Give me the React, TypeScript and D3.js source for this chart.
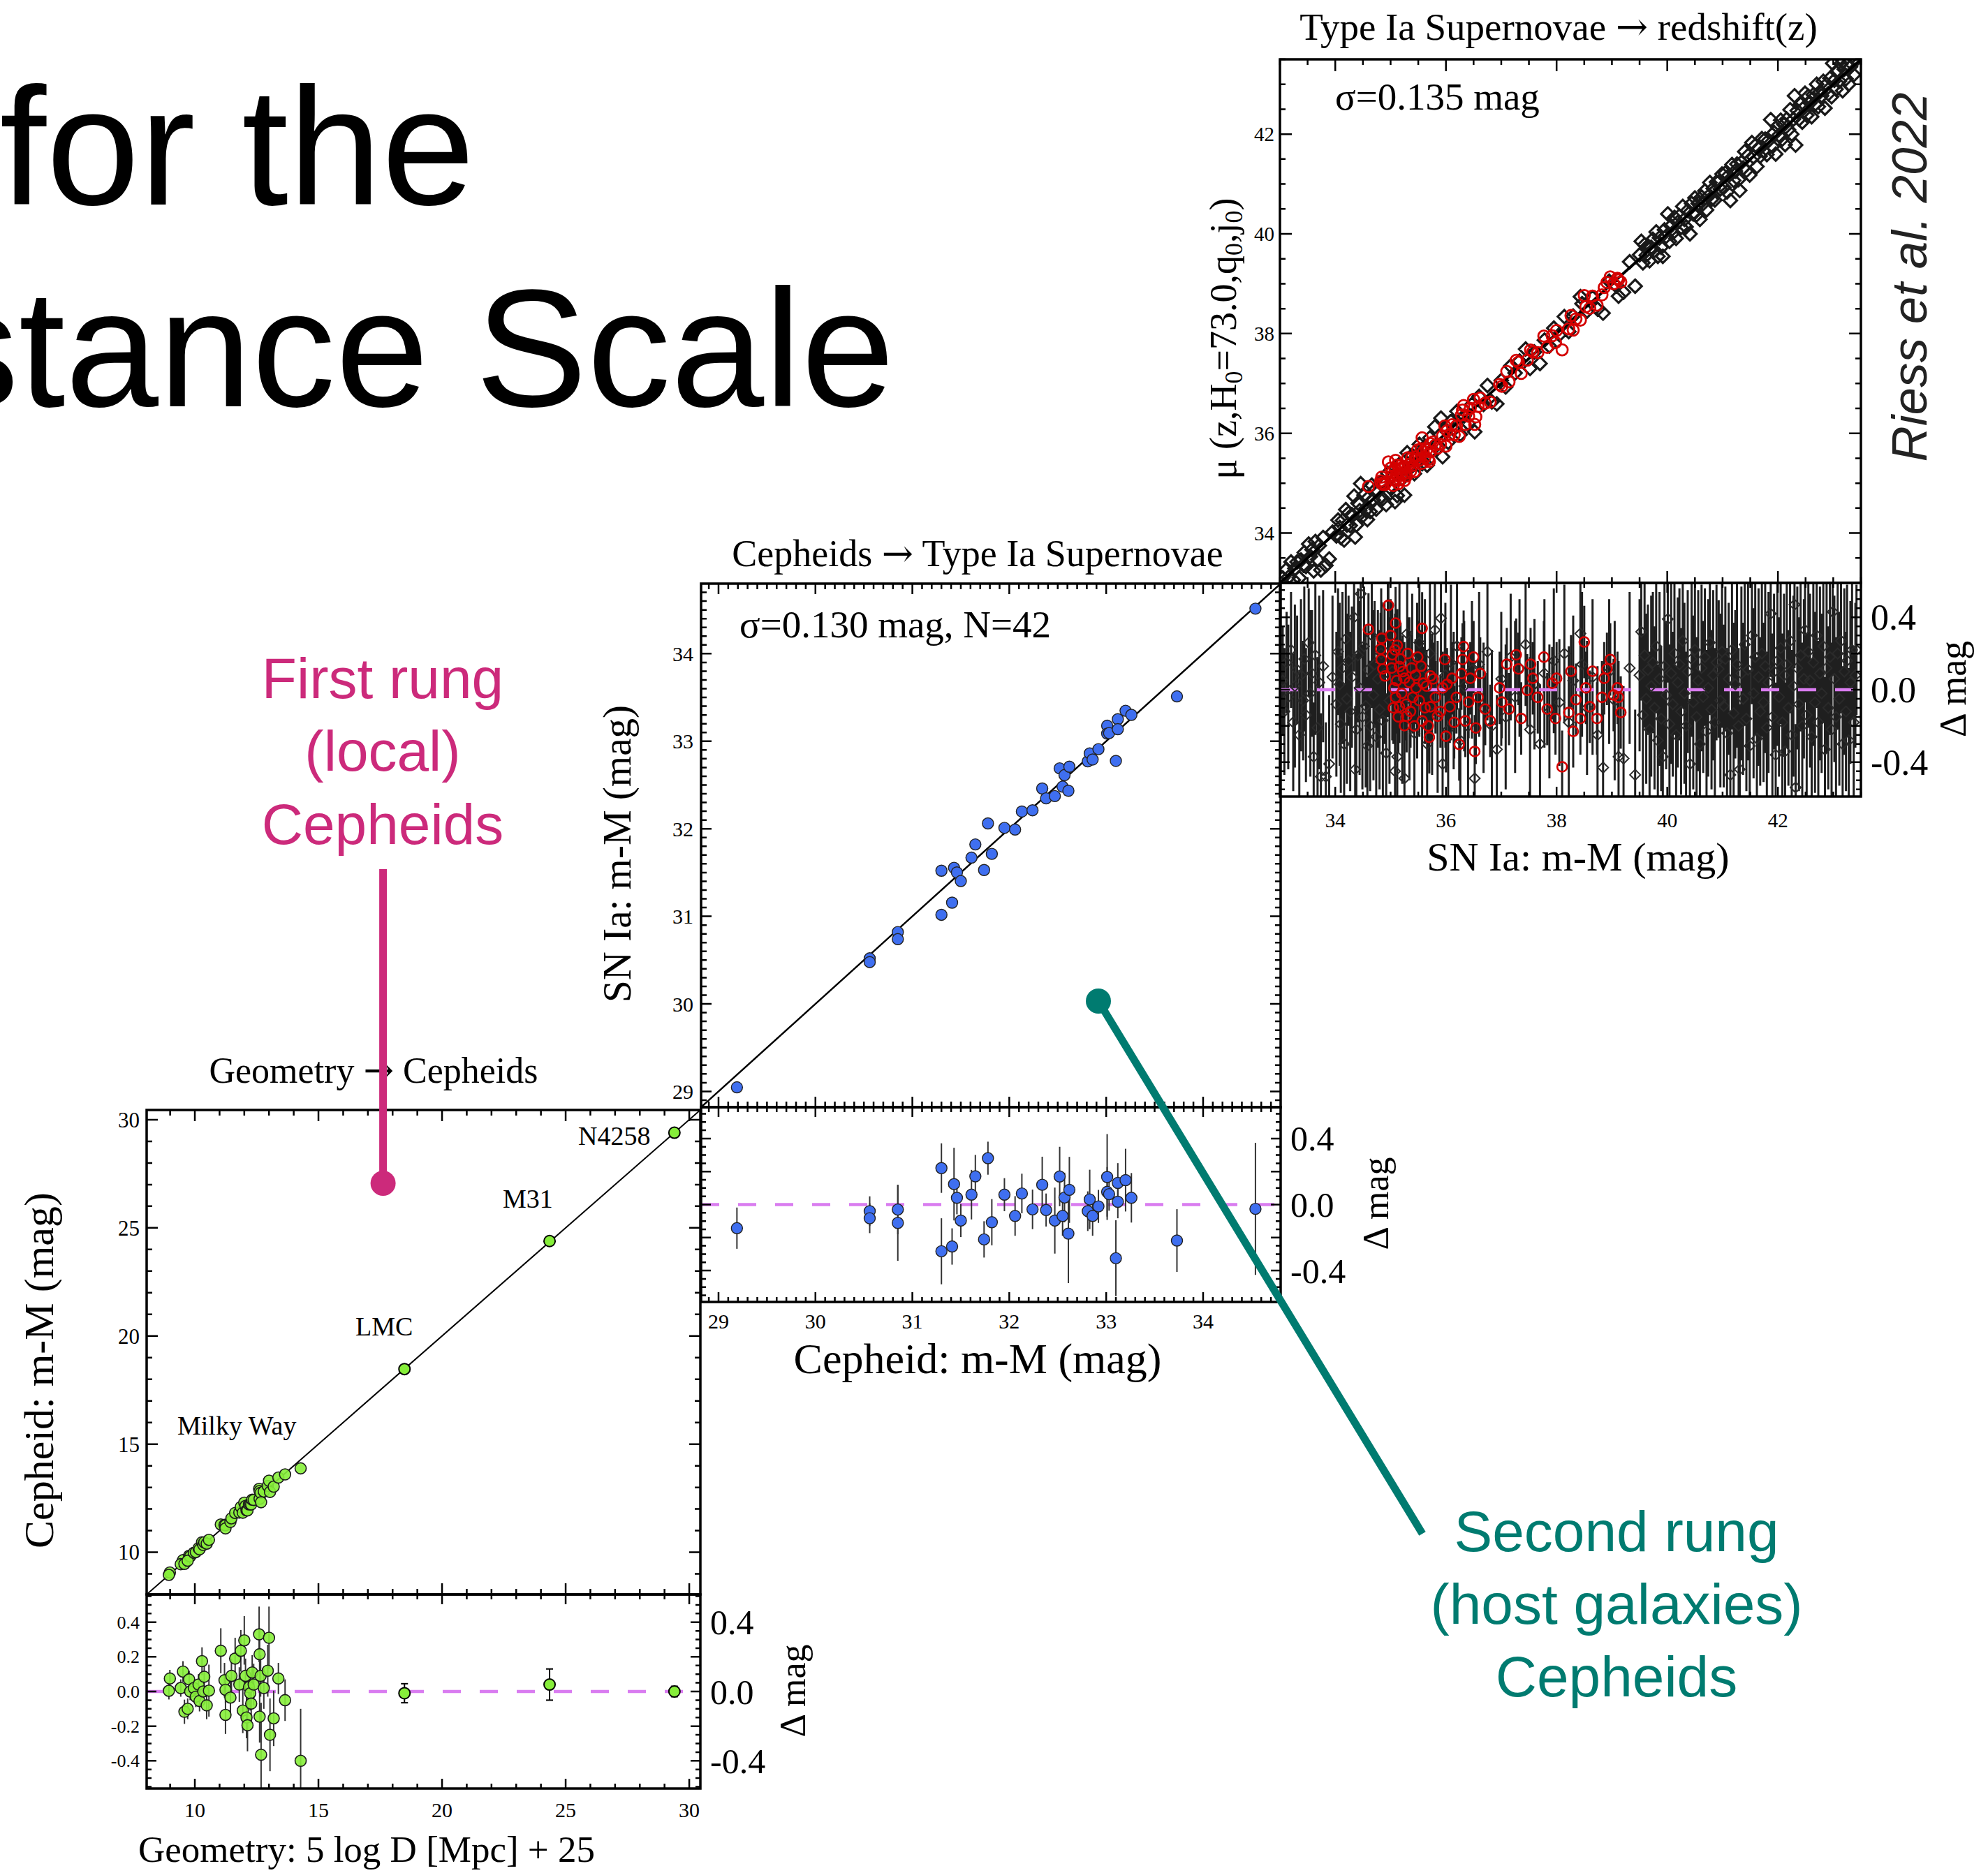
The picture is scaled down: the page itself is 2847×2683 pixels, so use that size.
import React from 'react';
import * as d3 from 'd3';

const W = 2847;
const H = 2683;
const SERIF = '"Liberation Serif", "Times New Roman", Times, serif';
const SANS = '"Liberation Sans", Arial, Helvetica, sans-serif';
const ARROW = '"DejaVu Serif", "DejaVu Sans", serif';

// ---- rung 1: geometry -> Cepheids (Milky Way parallaxes + anchors) ----
const mwGeo = [8.99, 8.95, 9.52, 9.43, 9.58, 9.77, 9.81, 9.71, 9.96, 10.04, 10.15, 10.19, 10.29, 10.34, 10.38, 10.48, 10.57, 11.05, 11.2, 11.24, 11.24, 11.44, 11.48, 11.63, 11.8, 11.86, 11.94, 12.0, 12.05, 12.09, 12.13, 12.19, 12.24, 12.28, 12.32, 12.38, 12.6, 12.62, 12.62, 12.66, 12.68, 12.79, 12.95, 13.0, 13.04, 13.19, 13.38, 13.65, 14.28];
const mwRes = [0.075, 0.004, 0.115, 0.02, -0.117, 0.07, 0.0, -0.1, 0.02, -0.03, 0.04, -0.055, 0.175, 0.0, 0.085, -0.08, 0.005, 0.235, 0.065, 0.01, -0.135, -0.035, 0.09, 0.19, 0.04, 0.235, -0.11, 0.295, 0.09, -0.15, -0.195, 0.025, -0.01, -0.07, 0.11, 0.04, 0.33, 0.215, -0.145, 0.09, -0.365, 0.02, 0.12, 0.31, -0.25, -0.155, 0.075, -0.05, -0.4];
const mwErr = [0.05, 0.05, 0.06, 0.05, 0.07, 0.05, 0.05, 0.06, 0.05, 0.06, 0.06, 0.06, 0.08, 0.05, 0.07, 0.08, 0.15, 0.13, 0.1, 0.08, 0.11, 0.1, 0.1, 0.12, 0.1, 0.12, 0.13, 0.14, 0.1, 0.12, 0.15, 0.1, 0.1, 0.12, 0.1, 0.12, 0.16, 0.15, 0.15, 0.12, 0.3, 0.12, 0.15, 0.18, 0.21, 0.16, 0.09, 0.12, 0.3];
const anchorNames = ['LMC', 'M31', 'N4258'];
const anchorGeo = [18.48, 24.35, 29.4];
const anchorRes = [-0.01, 0.04, 0.0];
const anchorErr = [0.055, 0.09, 0.03];

// ---- rung 2: Cepheids -> SN Ia (42 host galaxies) ----
const hostCeph = [29.19, 30.56, 30.56, 30.85, 30.85, 31.3, 31.3, 31.41, 31.43, 31.46, 31.5, 31.61, 31.65, 31.74, 31.78, 31.82, 31.95, 32.06, 32.13, 32.24, 32.34, 32.38, 32.47, 32.52, 32.55, 32.57, 32.61, 32.62, 32.81, 32.83, 32.86, 32.92, 33.01, 33.01, 33.03, 33.1, 33.12, 33.12, 33.2, 33.26, 33.73, 34.54];
const hostRes = [-0.143, -0.04, -0.083, -0.03, -0.111, 0.221, -0.283, -0.254, 0.124, 0.041, -0.097, 0.06, 0.171, -0.211, 0.281, -0.107, 0.06, -0.069, 0.067, -0.029, 0.12, -0.033, -0.097, 0.17, -0.069, 0.043, -0.176, 0.089, -0.04, 0.031, -0.069, -0.011, 0.167, 0.077, 0.063, -0.325, 0.131, 0.017, 0.148, 0.041, -0.218, -0.026];
const hostErr = [0.125, 0.09, 0.09, 0.15, 0.23, 0.15, 0.2, 0.11, 0.22, 0.1, 0.1, 0.15, 0.13, 0.11, 0.1, 0.14, 0.1, 0.12, 0.12, 0.12, 0.17, 0.1, 0.2, 0.18, 0.12, 0.15, 0.3, 0.2, 0.12, 0.18, 0.12, 0.1, 0.26, 0.15, 0.1, 0.23, 0.12, 0.1, 0.19, 0.15, 0.19, 0.4];

// ---- rung 3: SN Ia -> redshift. [m-M, delta mag, error] ----
const hubbleFlow = [
  [33.05, 0.05, 0.3], [33.08, -0.12, 0.35], [33.12, 0.15, 0.28], [33.15, -0.04, 0.4], [33.2, 0.22, 0.32], [33.24, -0.18, 0.38], [33.27, 0.02, 0.45], [33.31, 0.11, 0.3], [33.35, -0.25, 0.36], [33.38, 0.08, 0.42], [33.42, -0.06, 0.33], [33.44, 0.17, 0.4], [33.47, -0.14, 0.37], [33.52, 0.26, 0.3], [33.55, -0.02, 0.46], [33.58, 0.09, 0.35], [33.61, -0.37, 0.3], [33.64, 0.19, 0.44], [33.68, -0.21, 0.39], [33.71, 0.04, 0.48], [33.74, -0.48, 0.35], [33.78, 0.13, 0.42], [33.83, -0.48, 0.3], [33.89, -0.41, 0.38], [33.95, 0.07, 0.45],
  [34.02, -0.08, 0.4], [34.05, 0.21, 0.35], [34.08, 0.03, 0.45], [34.1, -0.19, 0.38], [34.13, 0.12, 0.42], [34.16, -0.3, 0.33], [34.19, 0.28, 0.4], [34.21, -0.05, 0.47], [34.24, 0.16, 0.36], [34.27, -0.12, 0.44], [34.3, 0.07, 0.39], [34.34, 0.4, 0.3], [34.36, -0.44, 0.35], [34.38, -0.22, 0.42], [34.41, 0.19, 0.37], [34.44, 0.01, 0.48], [34.46, 0.53, 0.35], [34.49, -0.15, 0.4], [34.52, 0.24, 0.33], [34.55, -0.09, 0.45], [34.58, -0.31, 0.38], [34.6, 0.11, 0.42], [34.63, -0.2, 0.36], [34.66, 0.3, 0.4], [34.69, -0.03, 0.47], [34.71, 0.14, 0.35], [34.74, -0.26, 0.41], [34.77, 0.06, 0.38], [34.8, -0.11, 0.44], [34.83, 0.2, 0.36], [34.86, -0.17, 0.42], [34.89, 0.09, 0.39], [34.92, -0.35, 0.33], [34.95, 0.25, 0.4], [34.98, -0.06, 0.46],
  [35.03, 0.1, 0.38], [35.08, -0.45, 0.3], [35.12, -0.37, 0.35], [35.16, 0.22, 0.42], [35.21, -0.12, 0.4], [35.25, -0.49, 0.33], [35.3, 0.31, 0.37], [35.34, -0.05, 0.45], [35.39, 0.17, 0.36], [35.43, -0.24, 0.4], [35.48, 0.05, 0.43], [35.52, 0.26, 0.35], [35.57, -0.18, 0.41], [35.62, 0.12, 0.38], [35.66, -0.3, 0.36], [35.71, 0.2, 0.44], [35.75, -0.08, 0.39], [35.8, 0.33, 0.34], [35.85, -0.15, 0.42], [35.91, 0.395, 0.3], [35.94, -0.41, 0.35], [35.99, 0.08, 0.4], [36.04, -0.22, 0.37], [36.09, 0.15, 0.43], [36.14, -0.06, 0.38], [36.2, 0.24, 0.35], [36.26, -0.28, 0.4], [36.33, 0.02, 0.36], [36.4, -0.2, 0.42], [36.47, 0.11, 0.38],
  [36.52, -0.49, 0.35], [36.6, 0.14, 0.4], [36.68, -0.1, 0.36], [36.75, 0.21, 0.38], [36.83, -0.2, 0.42], [36.92, -0.33, 0.3], [37.0, 0.06, 0.37], [37.08, -0.15, 0.4], [37.17, 0.18, 0.35], [37.25, -0.04, 0.42], [37.33, 0.12, 0.38], [37.44, 0.25, 0.34], [37.52, -0.22, 0.4], [37.6, 0.03, 0.36], [37.7, -0.3, 0.33], [37.78, 0.09, 0.41], [37.87, -0.12, 0.37], [37.95, 0.16, 0.4], [38.05, -0.07, 0.35], [38.14, 0.2, 0.38], [38.22, -0.18, 0.42], [38.3, 0.05, 0.36], [38.43, 0.31, 0.3], [38.46, 0.14, 0.4], [38.55, -0.1, 0.37], [38.65, 0.07, 0.43], [38.74, -0.25, 0.38], [38.84, -0.43, 0.32], [38.95, 0.1, 0.4], [39.05, -0.06, 0.44], [39.12, -0.37, 0.35], [39.21, -0.38, 0.4], [39.32, 0.12, 0.42], [39.42, -0.47, 0.36],
  [39.5, 0.08, 0.42], [39.53, 0.32, 0.38], [39.56, -0.14, 0.45], [39.59, 0.19, 0.4], [39.62, -0.05, 0.47], [39.65, 0.11, 0.36], [39.68, -0.22, 0.43], [39.71, 0.02, 0.5], [39.74, 0.15, 0.39], [39.77, -0.1, 0.45], [39.8, 0.24, 0.37], [39.83, -0.28, 0.42], [39.86, 0.06, 0.48], [39.89, -0.16, 0.4], [39.92, -0.37, 0.36], [39.95, 0.13, 0.46], [39.98, -0.03, 0.41], [40.01, 0.39, 0.35], [40.04, -0.19, 0.44], [40.07, 0.09, 0.5], [40.1, -0.08, 0.4], [40.13, 0.2, 0.45], [40.16, -0.25, 0.38], [40.19, 0.04, 0.47], [40.22, 0.14, 0.42], [40.25, -0.12, 0.46], [40.28, 0.27, 0.37], [40.31, -0.02, 0.5], [40.34, -0.2, 0.41], [40.37, 0.1, 0.45], [40.41, -0.41, 0.36], [40.44, 0.17, 0.43], [40.47, -0.07, 0.48], [40.5, 0.22, 0.39], [40.53, -0.15, 0.44], [40.56, 0.05, 0.5], [40.59, -0.3, 0.4], [40.62, 0.12, 0.46], [40.65, -0.04, 0.42], [40.68, 0.18, 0.38], [40.71, -0.23, 0.45], [40.74, 0.01, 0.49], [40.77, 0.26, 0.4], [40.8, -0.11, 0.44], [40.83, 0.08, 0.47], [40.86, -0.18, 0.41], [40.89, 0.15, 0.43], [40.93, 0.115, 0.38], [40.96, -0.06, 0.48], [40.99, 0.21, 0.42],
  [41.02, -0.09, 0.45], [41.05, 0.17, 0.4], [41.08, -0.24, 0.47], [41.11, 0.06, 0.42], [41.14, -0.47, 0.35], [41.17, 0.22, 0.44], [41.2, -0.13, 0.5], [41.23, 0.03, 0.41], [41.26, 0.14, 0.46], [41.29, -0.2, 0.43], [41.31, -0.44, 0.36], [41.34, 0.09, 0.48], [41.37, -0.05, 0.42], [41.4, 0.25, 0.45], [41.43, -0.16, 0.4], [41.46, 0.11, 0.5], [41.49, -0.31, 0.42], [41.53, 0.3, 0.38], [41.56, -0.02, 0.47], [41.59, 0.18, 0.43], [41.62, -0.27, 0.45], [41.65, 0.07, 0.49], [41.68, -0.12, 0.41], [41.71, 0.2, 0.46], [41.74, -0.07, 0.44], [41.77, 0.13, 0.48], [41.8, -0.21, 0.42], [41.83, 0.04, 0.5], [41.87, 0.42, 0.35], [41.9, -0.15, 0.46], [41.93, 0.1, 0.43], [41.96, -0.36, 0.4], [41.99, 0.16, 0.47], [42.02, -0.04, 0.44], [42.05, 0.23, 0.42], [42.08, -0.18, 0.49], [42.11, 0.08, 0.45], [42.13, -0.34, 0.38], [42.16, 0.14, 0.46], [42.19, -0.1, 0.43], [42.22, 0.27, 0.4], [42.25, -0.25, 0.47], [42.28, 0.02, 0.5], [42.3, 0.47, 0.35], [42.32, -0.54, 0.35], [42.35, 0.12, 0.45], [42.38, -0.08, 0.48], [42.41, 0.19, 0.42], [42.44, -0.2, 0.46], [42.47, 0.06, 0.44], [42.49, 0.33, 0.4],
  [42.52, -0.14, 0.45], [42.55, 0.21, 0.42], [42.58, 0.05, 0.48], [42.61, -0.26, 0.43], [42.64, 0.15, 0.46], [42.67, -0.07, 0.5], [42.7, 0.3, 0.4], [42.73, -0.18, 0.45], [42.76, 0.09, 0.48], [42.79, -0.02, 0.44], [42.82, 0.24, 0.42], [42.85, -0.33, 0.4], [42.88, 0.12, 0.47], [42.91, -0.1, 0.45], [42.94, 0.18, 0.43], [42.97, -0.22, 0.48], [42.99, 0.43, 0.35], [43.02, 0.06, 0.46], [43.05, -0.15, 0.44], [43.08, 0.2, 0.42], [43.11, -0.05, 0.48], [43.14, 0.27, 0.4], [43.17, -0.3, 0.43], [43.2, 0.1, 0.46], [43.23, -0.12, 0.44], [43.25, 0.16, 0.42], [43.28, -0.28, 0.4], [43.31, 0.04, 0.45], [43.34, 0.22, 0.38], [43.37, -0.18, 0.42], [43.4, 0.08, 0.4], [43.42, 0.22, 0.36],
];
// red: SNe in Cepheid-calibrated range. [m-M, delta mag]
const calSne = [
  [34.6, 0.333], [34.82, 0.225], [34.83, 0.167], [34.84, 0.284], [34.86, 0.115], [34.9, 0.076], [34.96, 0.466], [35.0, 0.3], [35.02, 0.12], [35.03, 0.193], [35.05, -0.1], [35.06, 0.01], [35.08, 0.22], [35.09, 0.368], [35.09, -0.042], [35.11, 0.05], [35.12, 0.245], [35.14, -0.15], [35.16, 0.128], [35.16, -0.094], [35.18, 0.17], [35.2, -0.02], [35.22, 0.1], [35.25, 0.063], [35.25, -0.198], [35.28, -0.08], [35.29, -0.146], [35.31, 0.2], [35.34, 0.04], [35.36, -0.12], [35.38, 0.12], [35.4, -0.042], [35.43, -0.2], [35.45, 0.08], [35.46, 0.01], [35.49, 0.18], [35.52, -0.06], [35.55, 0.13], [35.57, 0.339], [35.57, -0.172], [35.59, 0.036], [35.62, -0.1], [35.65, 0.02], [35.68, -0.2], [35.7, -0.263], [35.72, 0.076], [35.72, -0.094], [35.77, 0.06], [35.81, -0.042], [35.85, -0.146], [35.9, -0.12], [35.94, 0.01], [35.98, 0.167], [36.0, -0.257], [36.02, 0.03], [36.07, -0.094], [36.11, 0.063], [36.15, -0.18], [36.19, -0.042], [36.24, -0.302], [36.28, 0.089], [36.3, 0.167], [36.32, 0.238], [36.35, -0.172], [36.41, -0.068], [36.44, 0.063], [36.5, 0.18], [36.52, -0.341], [36.54, -0.211], [36.58, -0.042], [36.62, 0.089], [36.71, -0.107], [36.8, -0.172], [36.97, 0.01], [37.01, -0.068], [37.1, 0.141], [37.14, -0.107], [37.27, 0.193], [37.31, 0.115], [37.36, -0.159], [37.47, -0.003], [37.53, 0.141], [37.57, 0.063], [37.66, -0.042], [37.77, 0.18], [37.83, -0.107], [37.92, 0.036], [37.98, -0.159], [38.0, 0.063], [38.1, -0.426], [38.22, -0.126], [38.26, 0.102], [38.3, -0.23], [38.35, -0.055], [38.43, -0.159], [38.5, 0.264], [38.53, 0.01], [38.6, -0.094], [38.65, 0.102], [38.73, -0.159], [38.82, -0.042], [38.86, 0.063], [38.91, 0.115], [38.97, 0.167], [39.03, -0.029], [39.1, 0.01], [39.12, -0.042], [39.16, -0.126],
];
const calErr = 0.2;

// tick labels
const p1Ticks = [10, 15, 20, 25, 30];
const p2Ticks = [29, 30, 31, 32, 33, 34];
const p3Ticks = [34, 36, 38, 40, 42];
const resSmallTicks = [0.4, 0.2, 0.0, -0.2, -0.4];
const resBigTicks = [0.4, 0.0, -0.4];

// scales
const p1x = d3.scaleLinear().domain([8.05, 30.45]).range([210, 1003]);
const p1y = d3.scaleLinear().domain([8.05, 30.45]).range([2284, 1590]);
const p1r = d3.scaleLinear().domain([-0.56, 0.56]).range([2562, 2284]);
const p2x = d3.scaleLinear().domain([28.82, 34.8]).range([1004, 1834]);
const p2y = d3.scaleLinear().domain([28.82, 34.8]).range([1586, 836]);
const p2r = d3.scaleLinear().domain([-0.59, 0.59]).range([1865, 1586]);
const p3x = d3.scaleLinear().domain([33.0, 43.5]).range([1833, 2665]);
const p3y = d3.scaleLinear().domain([33.0, 43.5]).range([835, 85]);
const p3r = d3.scaleLinear().domain([-0.59, 0.59]).range([1141, 835]);

const steps = (step, a, b) => d3.range(a, b + step / 2, step).map(v => +v.toFixed(3));

function Frame({ x, y, xMaj, xMin, yMaj, yMin, maj = 15, mnr = 8 }) {
  const [L, R] = x.range();
  const [B, T] = y.range();
  const segs = [];
  const addX = (vals, len) => vals.forEach(v => { const p = x(v); segs.push(`M${p},${B}L${p},${B - len}M${p},${T}L${p},${T + len}`); });
  const addY = (vals, len) => vals.forEach(v => { const p = y(v); segs.push(`M${L},${p}L${L + len},${p}M${R},${p}L${R - len},${p}`); });
  addX(xMin, mnr); addX(xMaj, maj); addY(yMin, mnr); addY(yMaj, maj);
  return (
    <g>
      <path d={segs.join('')} stroke="#000" strokeWidth={2.5} fill="none" />
      <rect x={L} y={T} width={R - L} height={B - T} fill="none" stroke="#000" strokeWidth={3.5} />
    </g>
  );
}

const diamond = (cx, cy, s) => `M${cx},${cy - s}L${cx + s},${cy}L${cx},${cy + s}L${cx - s},${cy}Z`;
const fmt = v => (v === 0 ? '0.0' : d3.format('.1f')(v).replace('−', '-'));

function Zero({ x, r }) {
  const [L, R] = x.range();
  return <line x1={L} x2={R} y1={r(0)} y2={r(0)} stroke="#d97cf0" strokeWidth={4.5} strokeDasharray="26 27" />;
}

const Arrow = () => <tspan fontFamily={ARROW}>→</tspan>;

export default function App() {
  const mwCeph = mwGeo.map((g, i) => g + mwRes[i]);
  const anchorCeph = anchorGeo.map((g, i) => g + anchorRes[i]);
  const hostSn = hostCeph.map((c, i) => c + hostRes[i]);

  const hfBars = hubbleFlow.map(([m, d, e]) => `M${p3x(m)},${p3r(d - e)}L${p3x(m)},${p3r(d + e)}`).join('')
    + calSne.map(([m, d]) => `M${p3x(m)},${p3r(d - calErr)}L${p3x(m)},${p3r(d + calErr)}`).join('');
  const hfResDiamonds = hubbleFlow.map(([m, d]) => diamond(p3x(m), p3r(d), 7.5)).join('');
  const hfTopDiamonds = hubbleFlow.map(([m, d]) => diamond(p3x(m), p3y(m + d), 9.5)).join('');

  const serif = { fontFamily: SERIF, fill: '#000' };

  return (
    <svg width={W} height={H} viewBox={`0 0 ${W} ${H}`} style={{ position: 'absolute', left: 0, top: 0, background: '#fff' }}>
      <defs>
        <clipPath id="c1u"><rect x={210} y={1590} width={793} height={694} /></clipPath>
        <clipPath id="c1r"><rect x={210} y={2284} width={793} height={278} /></clipPath>
        <clipPath id="c2u"><rect x={1004} y={836} width={830} height={750} /></clipPath>
        <clipPath id="c2r"><rect x={1004} y={1586} width={830} height={279} /></clipPath>
        <clipPath id="c3u"><rect x={1833} y={85} width={832} height={750} /></clipPath>
        <clipPath id="c3r"><rect x={1833} y={835} width={832} height={306} /></clipPath>
      </defs>
      <rect width={W} height={H} fill="#fff" />

      {/* slide title fragments */}
      <text x={680} y={293} textAnchor="end" fontFamily={SANS} fontSize={240} fill="#000">for the</text>
      <text x={1281} y={582} textAnchor="end" fontFamily={SANS} fontSize={240} fill="#000">stance Scale</text>
      <text transform="translate(2759,397) rotate(-90)" textAnchor="middle" fontFamily={SANS} fontStyle="italic" fontSize={71} fill="#222">Riess et al. 2022</text>

      {/* ---------- panel 1 ---------- */}
      <text x={535} y={1551} textAnchor="middle" fontSize={52} {...serif}>Geometry <Arrow /> Cepheids</text>
      <g clipPath="url(#c1u)">
        <line x1={p1x(8.05)} y1={p1y(8.05)} x2={p1x(30.45)} y2={p1y(30.45)} stroke="#000" strokeWidth={2} />
        {mwGeo.map((g, i) => <circle key={'m' + i} cx={p1x(g)} cy={p1y(mwCeph[i])} r={8} fill="#86ee3a" stroke="#1a1a1a" strokeWidth={1.6} fillOpacity={0.9} />)}
        {anchorGeo.map((g, i) => <circle key={'a' + i} cx={p1x(g)} cy={p1y(anchorCeph[i])} r={8} fill="#86ee3a" stroke="#000" strokeWidth={2} />)}
      </g>
      <text x={254} y={2055} fontSize={38} {...serif}>Milky Way</text>
      <text x={509} y={1913} fontSize={38} {...serif}>{anchorNames[0]}</text>
      <text x={720} y={1730} fontSize={38} {...serif}>{anchorNames[1]}</text>
      <text x={828} y={1640} fontSize={38} {...serif}>{anchorNames[2]}</text>
      <Frame x={p1x} y={p1y} xMaj={p1Ticks} xMin={steps(1, 9, 30)} yMaj={p1Ticks} yMin={steps(1, 9, 30)} maj={16} mnr={8} />
      {p1Ticks.map(t => <text key={'p1y' + t} x={200} y={p1y(t)} dy="0.35em" textAnchor="end" fontSize={31} {...serif}>{t}</text>)}
      <text transform="translate(76,1963) rotate(-90)" textAnchor="middle" fontSize={60} {...serif}>Cepheid: m-M (mag)</text>

      <Zero x={p1x} r={p1r} />
      <g clipPath="url(#c1r)">
        {mwGeo.map((g, i) => <line key={'me' + i} x1={p1x(g)} x2={p1x(g)} y1={p1r(mwRes[i] - mwErr[i])} y2={p1r(mwRes[i] + mwErr[i])} stroke="#333" strokeWidth={2} />)}
        {anchorGeo.map((g, i) => (
          <g key={'ae' + i} stroke="#000" strokeWidth={2}>
            <line x1={p1x(g)} x2={p1x(g)} y1={p1r(anchorRes[i] - anchorErr[i])} y2={p1r(anchorRes[i] + anchorErr[i])} />
            <line x1={p1x(g) - 5} x2={p1x(g) + 5} y1={p1r(anchorRes[i] - anchorErr[i])} y2={p1r(anchorRes[i] - anchorErr[i])} />
            <line x1={p1x(g) - 5} x2={p1x(g) + 5} y1={p1r(anchorRes[i] + anchorErr[i])} y2={p1r(anchorRes[i] + anchorErr[i])} />
          </g>
        ))}
        {mwGeo.map((g, i) => <circle key={'mr' + i} cx={p1x(g)} cy={p1r(mwRes[i])} r={8} fill="#86ee3a" stroke="#1a1a1a" strokeWidth={1.6} fillOpacity={0.9} />)}
        {anchorGeo.map((g, i) => <circle key={'ar' + i} cx={p1x(g)} cy={p1r(anchorRes[i])} r={8} fill="#86ee3a" stroke="#000" strokeWidth={2} />)}
      </g>
      <Frame x={p1x} y={p1r} xMaj={p1Ticks} xMin={steps(1, 9, 30)} yMaj={resSmallTicks} yMin={steps(0.05, -0.55, 0.55)} maj={14} mnr={7} />
      {resSmallTicks.map(t => <text key={'p1rs' + t} x={200} y={p1r(t)} dy="0.35em" textAnchor="end" fontSize={26} {...serif}>{fmt(t)}</text>)}
      {resBigTicks.map(t => <text key={'p1rb' + t} x={1017} y={p1r(t)} dy="0.35em" fontSize={50} {...serif}>{fmt(t)}</text>)}
      <text transform="translate(1153,2422) rotate(-90)" textAnchor="middle" fontSize={52} {...serif}>Δ mag</text>
      {p1Ticks.map(t => <text key={'p1x' + t} x={p1x(t)} y={2603} textAnchor="middle" fontSize={30} {...serif}>{t}</text>)}
      <text x={525} y={2667} textAnchor="middle" fontSize={53} {...serif}>Geometry: 5 log D [Mpc] + 25</text>

      {/* ---------- panel 2 ---------- */}
      <text x={1400} y={811} textAnchor="middle" fontSize={54} {...serif}>Cepheids <Arrow /> Type Ia Supernovae</text>
      <g clipPath="url(#c2u)">
        <line x1={p2x(28.82)} y1={p2y(28.82)} x2={p2x(34.8)} y2={p2y(34.8)} stroke="#000" strokeWidth={2.5} />
        {hostCeph.map((c, i) => <circle key={'h' + i} cx={p2x(c)} cy={p2y(hostSn[i])} r={8} fill="#3f6ff0" stroke="#222" strokeWidth={1.4} />)}
      </g>
      <text x={1059} y={913} fontSize={55} {...serif}>σ=0.130 mag, N=42</text>
      <Frame x={p2x} y={p2y} xMaj={p2Ticks} xMin={steps(0.1, 28.9, 34.7)} yMaj={p2Ticks} yMin={steps(0.1, 28.9, 34.7)} maj={15} mnr={8} />
      {p2Ticks.map(t => <text key={'p2y' + t} x={993} y={p2y(t)} dy="0.35em" textAnchor="end" fontSize={30} {...serif}>{t}</text>)}
      <text transform="translate(903,1223) rotate(-90)" textAnchor="middle" fontSize={57} {...serif}>SN Ia: m-M (mag)</text>

      <Zero x={p2x} r={p2r} />
      <g clipPath="url(#c2r)">
        {hostCeph.map((c, i) => <line key={'he' + i} x1={p2x(c)} x2={p2x(c)} y1={p2r(hostRes[i] - hostErr[i])} y2={p2r(hostRes[i] + hostErr[i])} stroke="#333" strokeWidth={2} />)}
        {hostCeph.map((c, i) => <circle key={'hr' + i} cx={p2x(c)} cy={p2r(hostRes[i])} r={8} fill="#3f6ff0" stroke="#222" strokeWidth={1.4} />)}
      </g>
      <Frame x={p2x} y={p2r} xMaj={p2Ticks} xMin={steps(0.1, 28.9, 34.7)} yMaj={resSmallTicks} yMin={steps(0.05, -0.55, 0.55)} maj={14} mnr={7} />
      {resBigTicks.map(t => <text key={'p2rb' + t} x={1848} y={p2r(t)} dy="0.35em" fontSize={50} {...serif}>{fmt(t)}</text>)}
      <text transform="translate(1988,1724) rotate(-90)" textAnchor="middle" fontSize={52} {...serif}>Δ mag</text>
      {p2Ticks.map(t => <text key={'p2x' + t} x={p2x(t)} y={1903} textAnchor="middle" fontSize={30} {...serif}>{t}</text>)}
      <text x={1400} y={1967} textAnchor="middle" fontSize={62} {...serif}>Cepheid: m-M (mag)</text>

      {/* ---------- panel 3 ---------- */}
      <text x={2232} y={57} textAnchor="middle" fontSize={55} {...serif}>Type Ia Supernovae <Arrow /> redshift(z)</text>
      <g clipPath="url(#c3u)">
        <line x1={p3x(33)} y1={p3y(33)} x2={p3x(43.5)} y2={p3y(43.5)} stroke="#000" strokeWidth={4} />
        <path d={hfTopDiamonds} fill="none" stroke="#000" strokeWidth={3.2} strokeOpacity={0.9} />
        {calSne.map(([m, d], i) => <circle key={'ct' + i} cx={p3x(m)} cy={p3y(m + d)} r={8} fill="none" stroke="#d40000" strokeWidth={2.8} />)}
      </g>
      <text x={1912} y={157} fontSize={55} {...serif}>σ=0.135 mag</text>
      <Frame x={p3x} y={p3y} xMaj={p3Ticks} xMin={steps(0.5, 33, 43.5)} yMaj={p3Ticks} yMin={steps(0.5, 33, 43.5)} maj={17} mnr={8} />
      {p3Ticks.map(t => <text key={'p3y' + t} x={1825} y={p3y(t)} dy="0.35em" textAnchor="end" fontSize={29} {...serif}>{t}</text>)}
      <text transform="translate(1770,485) rotate(-90)" textAnchor="middle" fontSize={54} {...serif}>
        μ (z,H<tspan fontSize={36} dy={9}>0</tspan><tspan dy={-9}>=73.0,q</tspan><tspan fontSize={36} dy={9}>0</tspan><tspan dy={-9}>,j</tspan><tspan fontSize={36} dy={9}>0</tspan><tspan dy={-9}>)</tspan>
      </text>

      <g clipPath="url(#c3r)">
        <path d={hfBars} stroke="#000" strokeWidth={3} strokeOpacity={0.88} fill="none" />
        <Zero x={p3x} r={p3r} />
        <path d={hfResDiamonds} fill="none" stroke="#2a2a2a" strokeWidth={2} />
        {calSne.map(([m, d], i) => <circle key={'cr' + i} cx={p3x(m)} cy={p3r(d)} r={7} fill="none" stroke="#d40000" strokeWidth={2.6} />)}
      </g>
      <Frame x={p3x} y={p3r} xMaj={p3Ticks} xMin={steps(0.5, 33, 43.5)} yMaj={resSmallTicks} yMin={steps(0.05, -0.55, 0.55)} maj={14} mnr={7} />
      {resBigTicks.map(t => <text key={'p3rb' + t} x={2679} y={p3r(t)} dy="0.35em" fontSize={52} {...serif}>{fmt(t)}</text>)}
      <text transform="translate(2815,987) rotate(-90)" textAnchor="middle" fontSize={54} {...serif}>Δ mag</text>
      {p3Ticks.map(t => <text key={'p3x' + t} x={p3x(t)} y={1185} textAnchor="middle" fontSize={29} {...serif}>{t}</text>)}
      <text x={2260} y={1247} textAnchor="middle" fontSize={58} {...serif}>SN Ia: m-M (mag)</text>

      {/* ---------- annotations ---------- */}
      <g fill="#cc2a7b" fontFamily={SANS} fontSize={82} textAnchor="middle">
        <text x={548} y={1000}>First rung</text>
        <text x={548} y={1104}>(local)</text>
        <text x={548} y={1209}>Cepheids</text>
      </g>
      <line x1={548.6} y1={1245} x2={548.6} y2={1695} stroke="#cc2a7b" strokeWidth={11} />
      <circle cx={548.6} cy={1695} r={18} fill="#cc2a7b" />

      <g fill="#007b70" fontFamily={SANS} fontSize={82} textAnchor="middle">
        <text x={2315} y={2222}>Second rung</text>
        <text x={2315} y={2326}>(host galaxies)</text>
        <text x={2315} y={2430}>Cepheids</text>
      </g>
      <line x1={1573} y1={1434} x2={2037} y2={2197} stroke="#007b70" strokeWidth={11} />
      <circle cx={1573} cy={1434} r={18} fill="#007b70" />
    </svg>
  );
}
